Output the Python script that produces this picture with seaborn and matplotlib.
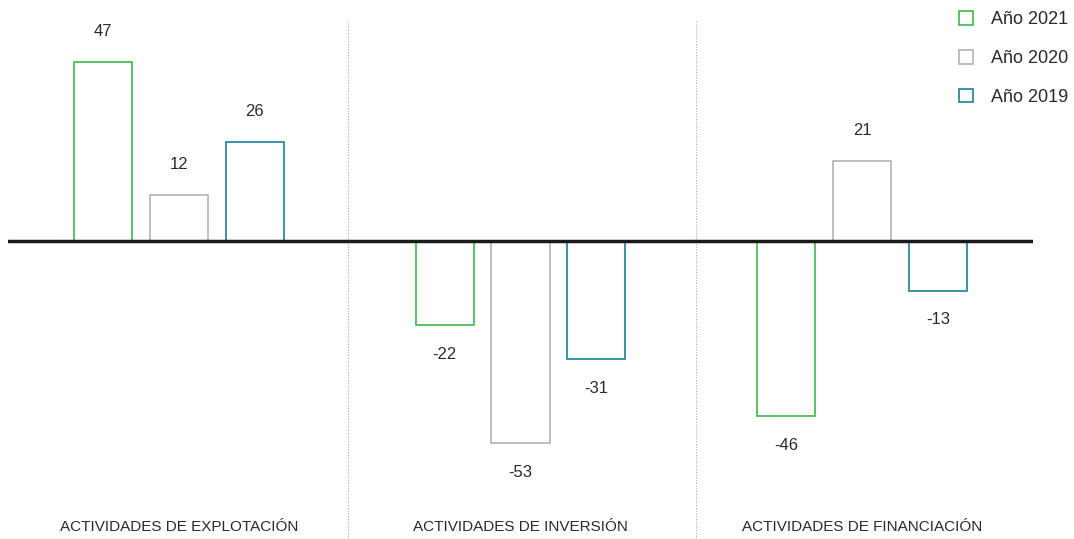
import matplotlib
matplotlib.use("Agg")
import matplotlib.pyplot as plt
import seaborn as sns
import pandas as pd
from matplotlib.patches import Patch

categories = ["ACTIVIDADES DE EXPLOTACIÓN", "ACTIVIDADES DE INVERSIÓN", "ACTIVIDADES DE FINANCIACIÓN"]
years = ["Año 2021", "Año 2020", "Año 2019"]
vals_2021 = [47, -22, -46]
vals_2020 = [12, -53, 21]
vals_2019 = [26, -31, -13]
colors = ["#3cb94a", "#b3b3b3", "#1d7f9d"]

rows = []
for yr, vals in zip(years, [vals_2021, vals_2020, vals_2019]):
    for c, v in zip(categories, vals):
        rows.append({"cat": c, "year": yr, "val": v})
df = pd.DataFrame(rows)

sns.set_theme(style="white")
plt.rcParams['font.family'] = ['Liberation Sans', 'DejaVu Sans']

fig = plt.figure(figsize=(10.74, 5.39), dpi=100)
ax = fig.add_axes([8/1074, 0, (1033-8)/1074, 1 - 20/539])

sns.barplot(data=df, x="cat", y="val", hue="year", order=categories, hue_order=years,
            palette=colors, fill=False, width=0.666, gap=0.234, linewidth=1.2,
            errorbar=None, legend=False, ax=ax)

ax.set_xlim(-0.5, 2.5)
ax.set_ylim(-78.2, 58)
ax.axhline(0, color="#1a1a1a", lw=2.5, zorder=5)
for xs in [0.495, 1.515]:
    ax.axvline(xs, color="#aaaaaa", lw=0.8, ls=(0, (1, 1.5)), zorder=0)

for container in ax.containers:
    for bar in container:
        h = bar.get_height()
        xc = bar.get_x() + bar.get_width() / 2
        if h >= 0:
            ax.annotate(f"{h:.0f}", (xc, h), xytext=(0, 22), textcoords="offset points",
                        ha="center", va="center", fontsize=12, color="#2a2a2a")
        else:
            ax.annotate(f"{h:.0f}", (xc, h), xytext=(0, -21), textcoords="offset points",
                        ha="center", va="center", fontsize=12, color="#2a2a2a")

for i, c in enumerate(categories):
    ax.text(i, -75, c, ha="center", va="center", fontsize=11, color="#2a2a2a")

ax.set_xticks([])
ax.set_yticks([])
ax.set_xlabel("")
ax.set_ylabel("")
for s in ax.spines.values():
    s.set_visible(False)

handles = [Patch(facecolor="none", edgecolor=col, lw=1.2) for col in colors]
fig.legend(handles, years, loc="upper right", bbox_to_anchor=(1.01, 1.01), frameon=False,
           fontsize=13, labelspacing=1.2, handlelength=0.8, handleheight=0.8,
           handletextpad=1.0, labelcolor="#2a2a2a")

fig.savefig("out.png", dpi=100)
